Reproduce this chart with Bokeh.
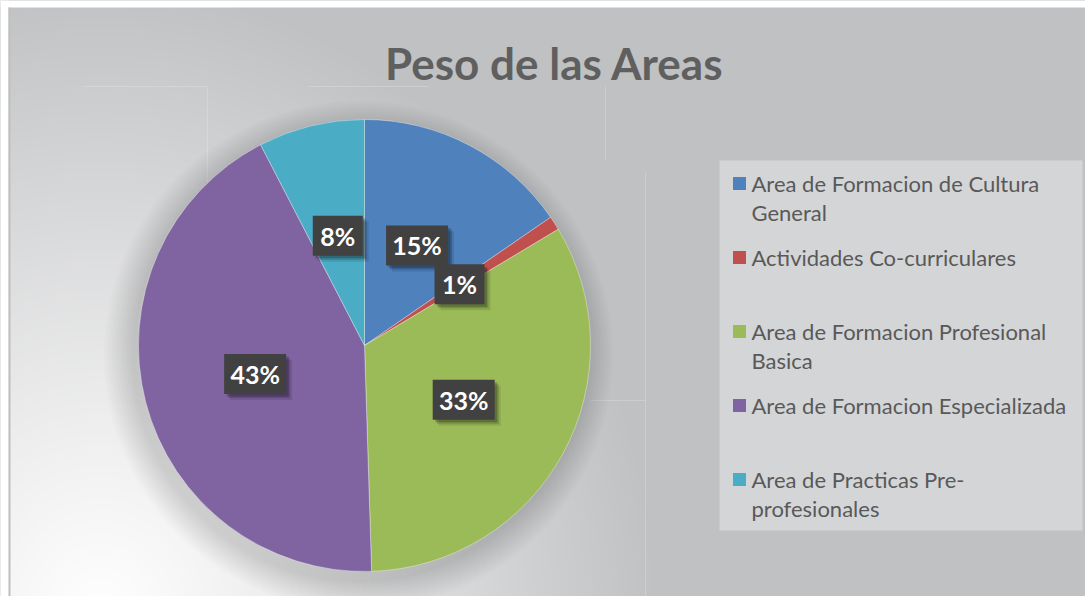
import numpy as np
from bokeh.plotting import figure
from bokeh.models import Range1d, ColumnDataSource
from bokeh.core.properties import value
from bokeh.embed import file_html
from bokeh.resources import INLINE

# ---- data ----
categories = [
    "Area de Formacion de Cultura\nGeneral",
    "Actividades Co-curriculares",
    "Area de Formacion Profesional\nBasica",
    "Area de Formacion Especializada",
    "Area de Practicas Pre-\nprofesionales",
]
shares = [15.4, 1.0, 33.1, 42.9, 7.6]
colors = ["#4F81BD", "#C0504D", "#9BBB59", "#8064A2", "#4BACC6"]
title_text = "Peso de las Areas"

W, H = 1085, 596


def sx(x):
    return x


def sy(y):
    return H - y


p = figure(width=W, height=H, output_backend="svg", toolbar_location=None,
           x_range=Range1d(0, W), y_range=Range1d(0, H),
           min_border=0, outline_line_color=None)
p.axis.visible = False
p.grid.visible = False
p.background_fill_color = "#c0c1c3"
p.border_fill_color = "white"

# ---- background gradient ----
yy, xx = np.mgrid[0:H, 0:W]
scr_x = xx
scr_y = H - yy
d = np.sqrt(((scr_x - 100) / 560.0) ** 2 + ((scr_y - 620) / 640.0) ** 2)
t = np.clip(d, 0, 1) ** 1.1
g = np.array([192, 193, 195], dtype=float)
r = (255 * (1 - t) + g[0] * t).astype(np.uint32)
gg = (255 * (1 - t) + g[1] * t).astype(np.uint32)
b = (255 * (1 - t) + g[2] * t).astype(np.uint32)
img = (255 << 24) | (b << 16) | (gg << 8) | r
p.image_rgba(image=[img.astype(np.uint32)], x=0, y=0, dw=W, dh=H)

# faint decorative lines
p.segment(x0=[sx(645), sx(590), sx(83), sx(207), sx(308), sx(605)],
          y0=[sy(172), sy(400), sy(86), sy(86), sy(86), sy(86)],
          x1=[sx(645), sx(645), sx(207), sx(207), sx(428), sx(605)],
          y1=[sy(596), sy(400), sy(86), sy(300), sy(86), sy(160)],
          line_color="white", line_alpha=0.2, line_width=1)

# page margin strips and left border line
p.quad(left=[0, 0], right=[W, 8], top=[H, H], bottom=[sy(7), 0],
       fill_color="white", line_color=None)
p.segment(x0=[9], y0=[0], x1=[9], y1=[sy(7)], line_color="#bfbfbf",
          line_width=2)

# ---- pie ----
cx, cy, R = sx(364), sy(345), 226
for k in range(12):
    p.circle(x=[cx - 6], y=[cy - 10], radius=R + 1 + 2.5 * k,
             fill_color="black", fill_alpha=0.012, line_color=None)

vals = np.array(shares, dtype=float)
frac = vals / vals.sum()
cum = np.concatenate([[0], np.cumsum(frac)])
start = np.pi / 2 - cum[:-1] * 2 * np.pi
end = np.pi / 2 - cum[1:] * 2 * np.pi
src = ColumnDataSource(dict(start=start, end=end, color=colors))
p.wedge(x=cx, y=cy, radius=R, start_angle="start", end_angle="end",
        direction="clock", fill_color="color", line_color="white",
        line_alpha=0.35, line_width=1, source=src)

# ---- data labels ----
mid = (start + end) / 2
lr = 0.5 * R
lx = cx + lr * np.cos(mid)
ly = cy + lr * np.sin(mid)
pct = [f"{round(v)}%" for v in frac * 100]
bw = [26 + 12 * len(s) for s in pct]
for off, a in [(6, 0.1), (4, 0.15), (2.5, 0.2)]:
    p.rect(x=lx + off, y=ly - off, width=bw, height=40,
           fill_color="black", fill_alpha=a, line_color=None)
p.rect(x=lx, y=ly, width=bw, height=40, fill_color="#414141",
       line_color=None)
p.text(x=lx, y=ly, text=pct, text_color="white", text_font=value("Lato"),
       text_font_style="bold", text_font_size="25px", text_align="center",
       text_baseline="middle")

# ---- title ----
p.text(x=[sx(554)], y=[sy(62)], text=[title_text], text_color="#5f5f5f",
       text_font=value("Lato"), text_font_style="bold",
       text_font_size="44px", text_align="center",
       text_baseline="middle")

# ---- legend ----
lx0, lx1, ly0, ly1 = sx(719), sx(1082), sy(160), sy(530)
p.quad(left=[lx0], right=[lx1], top=[ly0], bottom=[ly1],
       fill_color="#d4d5d7", line_color=None)
sq_x, sq_y, tx, ty = [], [], [], []
texts = []
for i, cat in enumerate(categories):
    y0 = 183 + 74 * i
    sq_x.append(sx(739))
    sq_y.append(sy(y0))
    for j, line in enumerate(cat.split("\n")):
        tx.append(sx(751))
        ty.append(sy(y0 + 29 * j))
        texts.append(line)
p.rect(x=sq_x, y=sq_y, width=13, height=13, fill_color=colors,
       line_color=None)
p.text(x=tx, y=ty, text=texts, text_color="#595959", text_font=value("Lato"),
       text_font_size="22px", text_align="left", text_baseline="middle")

open("out.html", "w").write(file_html(p, INLINE))
